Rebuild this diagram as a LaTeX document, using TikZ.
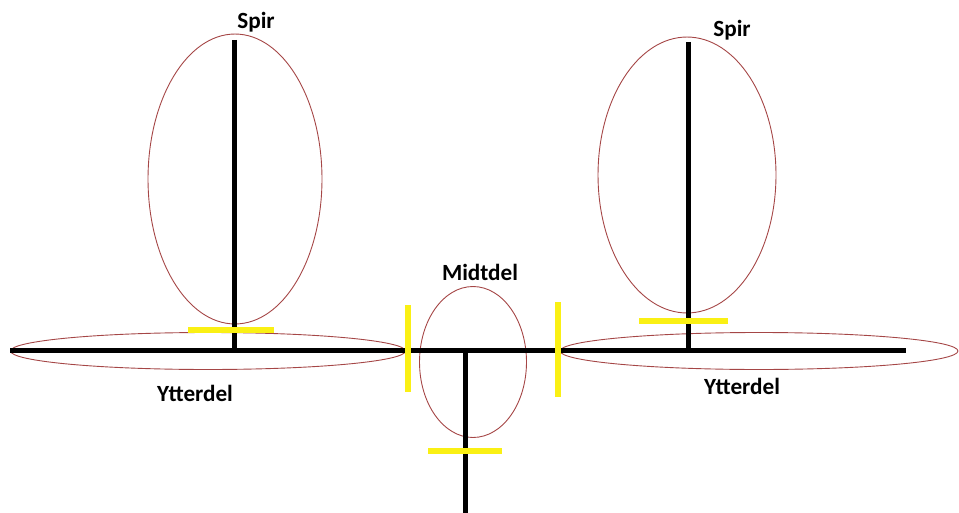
\documentclass[tikz,border=0pt]{standalone}
\usepackage{fontspec}
\setmainfont{Carlito}
\usetikzlibrary{shapes.geometric}
\definecolor{ringred}{RGB}{165,70,70}
\definecolor{markyellow}{RGB}{250,240,20}
\tikzset{
    rod/.style={draw=black, line width=0.1cm},
    ring/.style={ellipse, draw=ringred, line width=0.018cm, inner sep=0pt},
    marker/.style={draw=markyellow, line width=0.12cm},
    tag/.style={font=\bfseries\fontsize{13.2}{15}\selectfont, inner sep=0pt}
}

\begin{document}
\begin{tikzpicture}[x=0.02cm, y=-0.02cm]
    \useasboundingbox (0,0) rectangle (959,513);
    % Points
    \coordinate (HL) at (10,350);
    \coordinate (HR) at (906,350);
    \coordinate (LT) at (234,40);
    \coordinate (LB) at (234,350);
    \coordinate (RT) at (688,42);
    \coordinate (RB) at (688,350);
    \coordinate (MT) at (465,350);
    \coordinate (MB) at (465,513);

    % Rings
    \node[ring, minimum width=3.48cm, minimum height=5.8cm] (spirL) at (235,179) {};
    \node[ring, minimum width=3.56cm, minimum height=5.52cm] (spirR) at (687,175) {};
    \node[ring, minimum width=7.9cm, minimum height=0.74cm] (ytterL) at (208,351) {};
    \node[ring, minimum width=7.96cm, minimum height=0.74cm] (ytterR) at (759,351) {};
    \node[ring, minimum width=2.14cm, minimum height=3.02cm] (midt) at (473,362) {};

    % Rods
    \draw[rod] (HL) -- (HR);
    \draw[rod] (LT) -- (LB);
    \draw[rod] (RT) -- (RB);
    \draw[rod] (MT) -- (MB);

    % Markers
    \coordinate (m1a) at (188,330); \coordinate (m1b) at (274,330);
    \coordinate (m2a) at (639,321); \coordinate (m2b) at (728,321);
    \coordinate (m3a) at (428,451); \coordinate (m3b) at (502,451);
    \coordinate (m4a) at (408,305); \coordinate (m4b) at (408,392);
    \coordinate (m5a) at (558,302); \coordinate (m5b) at (558,397);
    \draw[marker] (m1a) -- (m1b);
    \draw[marker] (m2a) -- (m2b);
    \draw[marker] (m3a) -- (m3b);
    \draw[marker] (m4a) -- (m4b);
    \draw[marker] (m5a) -- (m5b);

    % Labels
    \node[tag] (tspirL) at (256,22) {Spir};
    \node[tag] (tspirR) at (732,30) {Spir};
    \node[tag] (tmidt) at (480,272) {Midtdel};
    \node[tag] (tytterL) at (195,393) {Ytterdel};
    \node[tag] (tytterR) at (742,386) {Ytterdel};
\end{tikzpicture}
\end{document}
